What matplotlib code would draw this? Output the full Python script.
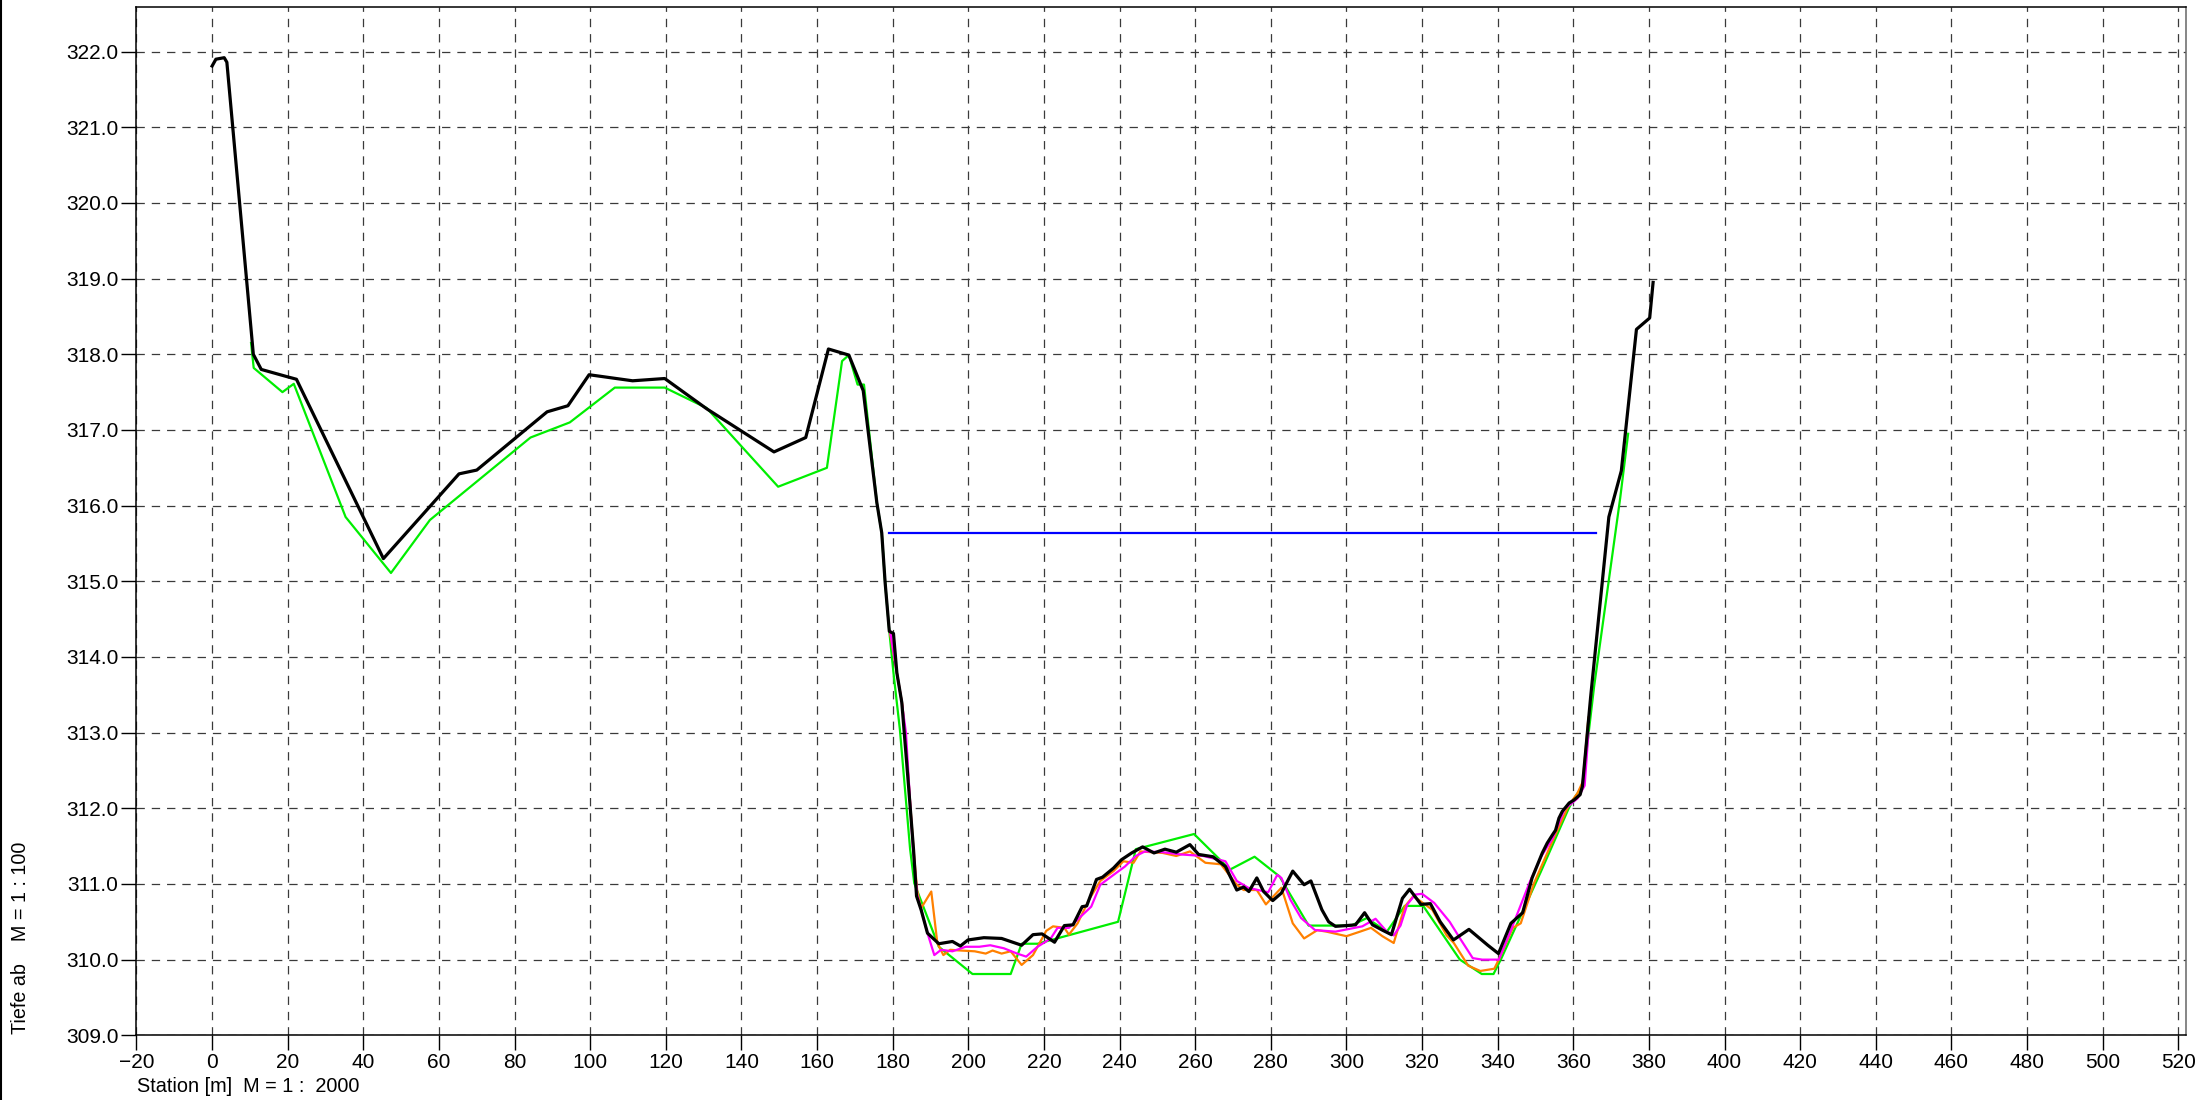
import matplotlib
matplotlib.use("Agg")
import matplotlib.pyplot as plt
from matplotlib.lines import Line2D
from matplotlib.ticker import FormatStrFormatter, MultipleLocator

plt.rcParams['font.family'] = ['Liberation Sans', 'DejaVu Sans']
plt.rcParams['lines.scale_dashes'] = False

# ---- data -------------------------------------------------------------
black_x = [0, 1.0, 3.2, 3.9, 10.9, 13.0, 22.3, 45.3, 65.3, 70.0, 88.6, 94.1, 99.7,
           111.2, 119.7, 130.8, 148.6, 157.0, 163.0, 168.4, 172.2, 175.8, 177.1,
           178.0, 179.1, 180.2, 181.1, 182.4, 183.7, 185.5, 186.3, 187.5, 189.2,
           192.2, 195.8, 197.9, 199.9, 204.1, 208.8, 214.1, 217.1, 219.5, 222.8,
           225.4, 227.7, 230.1, 231.3, 233.9, 235.5, 238.4, 240.5, 243.2, 246.1,
           249.1, 252.0, 255.0, 258.6, 260.9, 264.7, 268.0, 271.0, 272.8, 274.2,
           276.3, 278.1, 280.5, 282.8, 285.8, 288.8, 290.6, 293.5, 295.3, 297.1,
           300.0, 302.4, 304.8, 306.9, 309.5, 311.9, 314.8, 316.7, 319.7, 322.2,
           324.8, 328.3, 332.4, 337.4, 340.2, 343.5, 346.6, 349.1, 351.8, 353.1,
           354.5, 355.3, 356.2, 357.1, 358.9, 360.2, 361.8, 362.4, 363.7, 364.6,
           369.4, 372.7, 376.7, 380.2, 381.1]
black_y = [321.81, 321.90, 321.92, 321.86, 318.00, 317.80, 317.67, 315.30, 316.42,
           316.47, 317.24, 317.32, 317.73, 317.65, 317.68, 317.28, 316.71, 316.90,
           318.07, 317.99, 317.52, 316.04, 315.64, 314.98, 314.34, 314.31, 313.79,
           313.40, 312.60, 311.46, 310.84, 310.66, 310.35, 310.21, 310.24, 310.18,
           310.26, 310.29, 310.28, 310.19, 310.33, 310.34, 310.23, 310.45, 310.46,
           310.70, 310.71, 311.06, 311.09, 311.21, 311.32, 311.41, 311.49, 311.41,
           311.46, 311.42, 311.52, 311.39, 311.36, 311.23, 310.92, 310.96, 310.90,
           311.08, 310.90, 310.78, 310.88, 311.17, 310.99, 311.04, 310.66, 310.50,
           310.44, 310.45, 310.46, 310.62, 310.46, 310.39, 310.33, 310.81, 310.93,
           310.73, 310.74, 310.50, 310.26, 310.40, 310.19, 310.08, 310.48, 310.62,
           311.08, 311.41, 311.54, 311.65, 311.71, 311.87, 311.96, 312.07, 312.11,
           312.18, 312.29, 312.99, 313.48, 315.85, 316.46, 318.33, 318.48, 318.95]

green_x = [10.3, 11.0, 18.6, 21.6, 35.3, 47.3, 57.6, 84.2, 94.6, 106.5, 119.7,
           130.8, 149.7, 162.6, 166.6, 168.4, 170.7, 172.4, 175.8, 177.1, 178.0,
           179.1, 180.2, 181.9, 184.6, 185.7, 192.2, 201.1, 211.2, 214.1, 218.3,
           239.6, 244.3, 259.7, 269.2, 275.7, 282.3, 290.0, 301.3, 305.4, 310.7,
           315.4, 320.3, 330.0, 335.8, 338.9, 341.0, 351.4, 358.7, 360.2, 362.4,
           365.5, 372.4, 374.5]
green_y = [318.15, 317.82, 317.50, 317.61, 315.85, 315.11, 315.81, 316.90, 317.10,
           317.56, 317.56, 317.29, 316.25, 316.50, 317.91, 317.99, 317.60, 317.60,
           316.04, 315.64, 314.98, 314.34, 313.79, 313.04, 311.46, 311.01, 310.17,
           309.81, 309.81, 310.21, 310.21, 310.50, 311.46, 311.66, 311.19, 311.36,
           311.10, 310.45, 310.45, 310.55, 310.37, 310.71, 310.71, 310.00, 309.81,
           309.81, 310.02, 311.16, 311.99, 312.13, 312.29, 313.61, 316.10, 316.95]

orange_x = [179.2, 181.1, 182.6, 184.0, 185.5, 186.5, 187.5, 190.2, 191.8, 193.4,
            195.2, 198.1, 201.7, 204.6, 206.4, 208.8, 211.2, 214.1, 217.1, 220.6,
            222.4, 225.4, 226.6, 228.9, 231.9, 234.9, 238.4, 241.0, 243.7, 245.5,
            251.4, 255.0, 258.6, 262.7, 266.8, 271.0, 272.8, 276.3, 278.7, 282.8,
            285.8, 288.8, 292.3, 294.7, 300.0, 303.6, 306.5, 309.5, 312.5, 315.4,
            317.7, 321.3, 322.7, 326.5, 328.4, 332.2, 335.4, 339.1, 340.3, 344.0,
            346.1, 349.6, 354.7, 358.7, 361.1, 362.5, 364.0]
orange_y = [314.34, 313.79, 313.35, 312.50, 311.46, 310.90, 310.68, 310.90, 310.22,
            310.06, 310.13, 310.12, 310.11, 310.08, 310.12, 310.08, 310.11, 309.93,
            310.06, 310.38, 310.44, 310.42, 310.33, 310.48, 310.79, 311.04, 311.17,
            311.30, 311.28, 311.43, 311.41, 311.37, 311.43, 311.28, 311.26, 310.99,
            310.92, 310.92, 310.73, 310.95, 310.48, 310.28, 310.39, 310.37, 310.31,
            310.37, 310.42, 310.31, 310.22, 310.70, 310.84, 310.71, 310.66, 310.32,
            310.22, 309.92, 309.85, 309.88, 310.00, 310.42, 310.48, 311.01, 311.59,
            312.03, 312.20, 312.35, 313.20]

magenta_x = [179.3, 181.1, 182.4, 183.5, 185.3, 186.5, 189.2, 191.0, 192.8, 195.8,
             199.3, 202.9, 205.8, 209.4, 212.9, 215.3, 218.3, 221.8, 223.6, 226.6,
             228.9, 232.5, 234.9, 238.4, 241.4, 244.3, 246.7, 251.4, 256.2, 262.1,
             268.0, 271.0, 274.0, 279.3, 281.7, 282.8, 285.2, 288.0, 291.7, 297.1,
             304.2, 307.7, 310.7, 312.5, 314.3, 316.1, 318.2, 320.0, 323.2, 327.3,
             330.3, 333.4, 335.9, 338.5, 340.3, 343.5, 348.6, 351.6, 354.5, 357.7,
             361.1, 363.0, 364.0]
magenta_y = [314.34, 313.79, 313.40, 313.00, 311.50, 310.85, 310.35, 310.06, 310.13,
             310.11, 310.17, 310.17, 310.19, 310.15, 310.08, 310.04, 310.17, 310.28,
             310.42, 310.42, 310.53, 310.70, 310.99, 311.12, 311.23, 311.37, 311.43,
             311.42, 311.39, 311.37, 311.30, 311.04, 310.95, 310.89, 311.12, 311.08,
             310.79, 310.55, 310.39, 310.37, 310.44, 310.54, 310.37, 310.32, 310.45,
             310.73, 310.86, 310.87, 310.75, 310.50, 310.26, 310.02, 310.00, 310.00,
             310.00, 310.39, 311.04, 311.37, 311.60, 311.99, 312.13, 312.30, 313.00]

water_x = [179.1, 366.1]
water_y = [315.64, 315.64]

x_ticks = list(range(-20, 521, 20))
y_ticks = list(range(309, 323))
x_label = "Station [m]  M = 1 :  2000"
y_label = "Tiefe ab    M = 1 : 100"

# ---- figure -----------------------------------------------------------
fig = plt.figure(figsize=(22.1, 11.0), dpi=100)
ax = fig.add_axes([0.06176, 0.05882, 0.92738, 0.93482])

ax.set_xlim(-20, 522.04)
ax.set_ylim(309, 322.59)

ax.plot(water_x, water_y, color='#0000ff', lw=1.6, zorder=3)
ax.plot(green_x, green_y, color='#00ee00', lw=1.6, zorder=4)
ax.plot(orange_x, orange_y, color='#ff8000', lw=1.6, zorder=5)
ax.plot(magenta_x, magenta_y, color='#ff00ff', lw=1.6, zorder=6)
ax.plot(black_x, black_y, color='black', lw=2.3, zorder=7)

ax.set_xticks(x_ticks)
ax.set_yticks(y_ticks)
ax.yaxis.set_major_formatter(FormatStrFormatter('%.1f'))
ax.grid(True, color='#3a3a3a', lw=0.9, linestyle=(0, (6, 5)), zorder=1)
ax.set_axisbelow(True)
ax.tick_params(direction='out', length=11, width=1.0, labelsize=15, pad=2,
               colors='black')
for s in ax.spines.values():
    s.set_color('black')
    s.set_linewidth(1.1)
ax.spines['right'].set_color('#666666')

fig.text(137 / 2210, 1 - 1092 / 1100, x_label, fontsize=14.3,
         ha='left', va='baseline')
fig.text(21 / 2210, 1 - 1034 / 1100, y_label, fontsize=14.2, rotation=90,
         ha='center', va='bottom')

fig.add_artist(Line2D([0.0006, 0.0006], [0, 1], transform=fig.transFigure,
                      color='black', lw=1.5))

fig.savefig('out.png', dpi=100)
